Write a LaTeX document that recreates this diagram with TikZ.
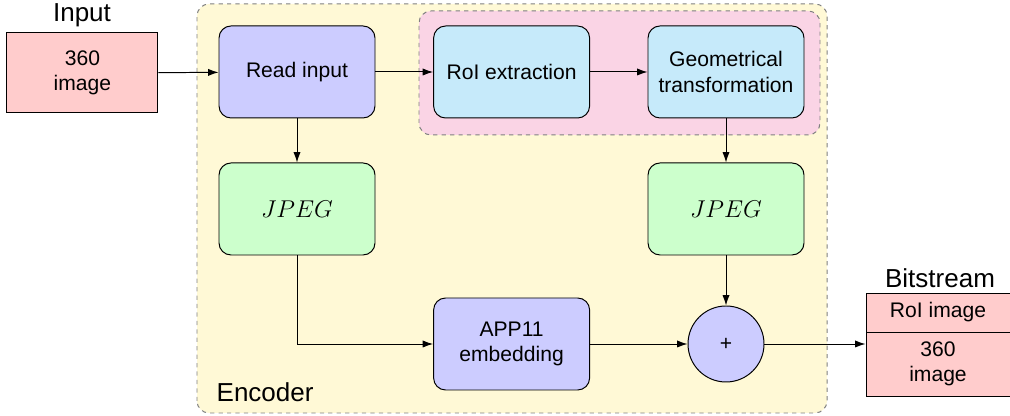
\documentclass[tikz,border=0pt]{standalone}
\usepackage{fontspec}
\setmainfont{Liberation Sans}
\usetikzlibrary{arrows.meta}

\definecolor{inputred}{RGB}{255,204,204}
\definecolor{encyellow}{RGB}{255,249,214}
\definecolor{procblue}{RGB}{204,204,255}
\definecolor{roicyan}{RGB}{198,234,250}
\definecolor{roipink}{RGB}{250,212,229}
\definecolor{jpeggreen}{RGB}{204,255,204}

\tikzset{
    blockbox/.style={draw=black, line width=0.7pt, rounded corners=0.3cm,
        minimum width=3.9cm, minimum height=2.3cm, align=center,
        font=\fontsize{15}{18}\selectfont},
    readbox/.style={blockbox, fill=procblue},
    roibox/.style={blockbox, fill=roicyan},
    jpegbox/.style={blockbox, fill=jpeggreen, font=\fontsize{16.5}{18}\selectfont},
    databox/.style={draw=black, line width=0.7pt, fill=inputred, align=center,
        minimum width=3.6cm, font=\fontsize{15}{18}\selectfont},
    groupbox/.style={draw=gray, dashed, line width=0.7pt, rounded corners=0.3cm},
    titletext/.style={font=\fontsize{18.5}{22}\selectfont, inner sep=0pt},
    flow/.style={-{Latex[length=2.6mm,width=1.8mm]}, line width=0.7pt}
}

\begin{document}
\begin{tikzpicture}
        \useasboundingbox (0,0) rectangle (25.25,10.4);

        % groups
        \draw[groupbox, fill=encyellow] (4.925,0.075) rectangle (20.675,10.3);
        \draw[groupbox, fill=roipink] (10.475,7.025) rectangle (20.5,10.125);

        % input
        \node[databox, minimum width=3.775cm, minimum height=2cm] (input) at (2.06,8.575) {360\\image};
        \node[titletext] (inputlbl) at (2.05,10.025) {Input};

        % encoder blocks
        \node[readbox] (read) at (7.425,8.6) {Read input};
        \node[roibox] (roi) at (12.79,8.6) {RoI extraction};
        \node[roibox] (geo) at (18.15,8.6) {Geometrical\\transformation};
        \node[jpegbox] (jpegl) at (7.425,5.175) {$JPEG$};
        \node[jpegbox] (jpegr) at (18.15,5.175) {$JPEG$};
        \node[readbox] (app) at (12.79,1.8) {APP11\\embedding};
        \node[draw=black, line width=0.7pt, fill=procblue, circle, minimum size=1.9cm,
            font=\fontsize{15}{18}\selectfont] (sum) at (18.15,1.8) {+};
        \node[titletext, anchor=west] (enclbl) at (5.41,0.6) {Encoder};

        % bitstream
        \node[databox, minimum height=0.975cm] (bittop) at (23.45,2.5875) {RoI image};
        \node[databox, minimum height=1.6cm] (bitbot) at (23.45,1.3) {360\\image};
        \node[titletext] (bitlbl) at (23.5,3.45) {Bitstream};

        % connectors
        \draw[flow] (input) -- (read);
        \draw[flow] (read) -- (roi);
        \draw[flow] (roi) -- (geo);
        \draw[flow] (read) -- (jpegl);
        \draw[flow] (geo) -- (jpegr);
        \draw[flow] (jpegl.south) |- (app.west);
        \draw[flow] (app) -- (sum);
        \draw[flow] (jpegr) -- (sum);
        \draw[flow] (sum) -- (sum -| bitbot.west);
    \end{tikzpicture}
\end{document}
